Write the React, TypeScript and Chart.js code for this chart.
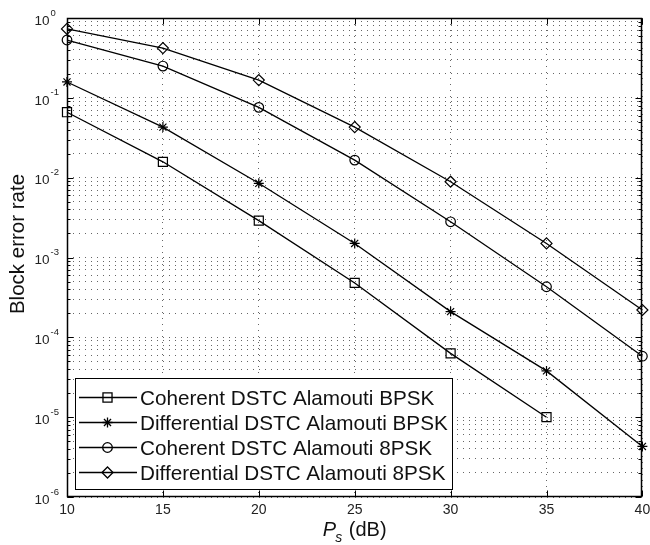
import React, { useEffect, useRef } from 'react';
import { Chart, registerables } from 'chart.js';
import { drawPoint } from 'chart.js/helpers';
Chart.register(...registerables);

// ---- data ----
const psDb = [10, 15, 20, 25, 30, 35, 40];
const coherentBpsk = [0.066, 0.0158, 0.0029, 4.8e-4, 6.3e-5, 1.0e-5];
const differentialBpsk = [0.158, 0.043, 0.0085, 1.5e-3, 2.1e-4, 3.8e-5, 4.3e-6];
const coherent8psk = [0.53, 0.25, 0.076, 0.0166, 0.0028, 4.3e-4, 5.8e-5];
const differential8psk = [0.73, 0.42, 0.167, 0.043, 0.0089, 1.5e-3, 2.2e-4];
const seriesLabels = [
  'Coherent DSTC Alamouti BPSK',
  'Differential DSTC Alamouti BPSK',
  'Coherent DSTC Alamouti 8PSK',
  'Differential DSTC Alamouti 8PSK',
];
const xTickValues = [10, 15, 20, 25, 30, 35, 40];
const yDecadeExponents = [0, -1, -2, -3, -4, -5, -6];
const yAxisTitle = 'Block error rate';
const xTitleMain = 'P';
const xTitleSub = 's';
const xTitleRest = ' (dB)';

const seriesValues = [coherentBpsk, differentialBpsk, coherent8psk, differential8psk];
const markerStyles = ['rect', 'star', 'circle', 'rectRot'];
const markerRadii = [6.4, 5, 4.8, 5.5];

const FONT = '"Liberation Sans", Arial, Helvetica, sans-serif';

function yTickList() {
  const out: number[] = [];
  for (let d = -6; d <= 0; d++) {
    for (let m = 1; m <= 9; m++) {
      if (d === 0 && m > 1) break;
      out.push(m * Math.pow(10, d));
    }
  }
  return out;
}

const decorPlugin = {
  id: 'decor',
  afterDraw(chart: any) {
    const { ctx, chartArea: a, scales } = chart;
    const xs = scales.x;
    const ys = scales.y;
    const L = Math.round(a.left) + 0.5;
    const R = Math.round(a.right) - 0.5;
    const T = Math.round(a.top) + 0.5;
    const B = Math.round(a.bottom) - 0.5;
    ctx.save();
    ctx.setLineDash([]);
    ctx.strokeStyle = '#000';
    ctx.lineWidth = 1.5;
    // box
    ctx.strokeRect(L, T, R - L, B - T);
    ctx.lineWidth = 1;
    // ticks
    ctx.beginPath();
    for (const v of xTickValues) {
      const px = Math.round(xs.getPixelForValue(v)) + 0.5;
      ctx.moveTo(px, B); ctx.lineTo(px, B - 6);
      ctx.moveTo(px, T); ctx.lineTo(px, T + 6);
    }
    for (const v of yTickList()) {
      const py = Math.round(ys.getPixelForValue(v)) + 0.5;
      const major = Math.abs(Math.log10(v) - Math.round(Math.log10(v))) < 1e-9;
      const len = major ? 6 : 3;
      ctx.moveTo(L, py); ctx.lineTo(L + len, py);
      ctx.moveTo(R, py); ctx.lineTo(R - len, py);
    }
    ctx.stroke();

    // x tick labels
    ctx.fillStyle = '#222';
    ctx.font = `14px ${FONT}`;
    ctx.textAlign = 'center';
    ctx.textBaseline = 'middle';
    for (const v of xTickValues) {
      ctx.fillText(String(v), xs.getPixelForValue(v), 510);
    }
    // y tick labels 10^k
    for (const e of yDecadeExponents) {
      const py = ys.getPixelForValue(Math.pow(10, e));
      ctx.textAlign = 'left';
      ctx.font = `13.5px ${FONT}`;
      ctx.fillText('10', 34.5, py + 3);
      const w = ctx.measureText('10').width;
      ctx.font = `9.5px ${FONT}`;
      ctx.fillText(String(e), 34.5 + w + 1, py - 5);
    }
    // y title
    ctx.save();
    ctx.translate(23.5, 244);
    ctx.rotate(-Math.PI / 2);
    ctx.font = `20.5px ${FONT}`;
    ctx.textAlign = 'center';
    ctx.textBaseline = 'alphabetic';
    ctx.fillStyle = '#111';
    ctx.fillText(yAxisTitle, 0, 0);
    ctx.restore();
    // x title
    ctx.fillStyle = '#111';
    ctx.textBaseline = 'alphabetic';
    ctx.textAlign = 'left';
    ctx.font = `italic 20px ${FONT}`;
    const wP = ctx.measureText(xTitleMain).width;
    ctx.font = `italic 14px ${FONT}`;
    const wS = ctx.measureText(xTitleSub).width;
    ctx.font = `20px ${FONT}`;
    const wR = ctx.measureText(xTitleRest).width;
    const total = wP + wS + wR;
    const x0 = (a.left + a.right) / 2 - total / 2;
    ctx.font = `italic 20px ${FONT}`;
    ctx.fillText(xTitleMain, x0, 536);
    ctx.font = `italic 14px ${FONT}`;
    ctx.fillText(xTitleSub, x0 + wP - 1, 542);
    ctx.font = `20px ${FONT}`;
    ctx.fillText(xTitleRest, x0 + wP + wS, 536);

    // legend
    const lx = 75.5, ly = 378.5, lw = 377, lh = 111;
    ctx.fillStyle = '#fff';
    ctx.fillRect(lx, ly, lw, lh);
    ctx.strokeStyle = '#000';
    ctx.lineWidth = 1;
    ctx.strokeRect(lx, ly, lw, lh);
    const rows = [397, 422, 447, 472];
    seriesLabels.forEach((lab, i) => {
      const cy = rows[i] + 0.5;
      ctx.beginPath();
      ctx.moveTo(79, cy); ctx.lineTo(137, cy);
      ctx.strokeStyle = '#000';
      ctx.lineWidth = 1.3;
      ctx.stroke();
      ctx.fillStyle = 'rgba(0,0,0,0)';
      ctx.strokeStyle = '#000';
      drawPoint(ctx, { pointStyle: markerStyles[i], radius: markerRadii[i], rotation: 0, borderWidth: 1.2 } as any, 107.5, cy);
      ctx.fillStyle = '#111';
      ctx.font = `20.7px ${FONT}`;
      ctx.textAlign = 'left';
      ctx.textBaseline = 'alphabetic';
      ctx.fillText(lab, 140, rows[i] + 7.5);
    });
    ctx.restore();
  },
};

export default function App() {
  const ref = useRef<HTMLCanvasElement>(null);
  useEffect(() => {
    const canvas = ref.current!;
    const datasets = seriesValues.map((vals, i) => ({
      label: seriesLabels[i],
      data: vals.map((v, j) => ({ x: psDb[j], y: v })),
      borderColor: '#000',
      borderWidth: 1.3,
      backgroundColor: 'rgba(0,0,0,0)',
      pointStyle: markerStyles[i],
      pointRadius: markerRadii[i],
      pointBorderColor: '#000',
      pointBackgroundColor: 'rgba(0,0,0,0)',
      pointBorderWidth: 1.2,
      tension: 0,
      fill: false,
      clip: false as any,
    }));
    const chart = new Chart(canvas, {
      type: 'line',
      data: { datasets },
      options: {
        animation: false,
        responsive: false,
        maintainAspectRatio: false,
        events: [],
        layout: { padding: { top: 18, right: 7, left: 0, bottom: 0 } },
        plugins: { legend: { display: false }, tooltip: { enabled: false } },
        scales: {
          x: {
            type: 'linear',
            min: 10,
            max: 40,
            afterBuildTicks: (s: any) => { s.ticks = xTickValues.map((v) => ({ value: v })); },
            afterFit: (s: any) => { s.height = 48; s.paddingLeft = 0; s.paddingRight = 0; },
            ticks: { display: false },
            grid: { color: '#666', lineWidth: 1, drawTicks: false },
            border: { display: false, dash: [1, 5] },
          },
          y: {
            type: 'logarithmic',
            min: 1e-6,
            max: 1,
            afterBuildTicks: (s: any) => { s.ticks = yTickList().map((v) => ({ value: v })); },
            afterFit: (s: any) => { s.width = 67; s.paddingTop = 0; s.paddingBottom = 0; },
            ticks: { display: false, autoSkip: false },
            grid: { color: '#666', lineWidth: 1, drawTicks: false },
            border: { display: false, dash: [1, 5] },
          },
        },
      },
      plugins: [decorPlugin],
    });
    return () => chart.destroy();
  }, []);
  return (
    <div style={{ position: 'absolute', left: 0, top: 0, width: 650, height: 545, background: '#fff' }}>
      <canvas ref={ref} width={650} height={545} style={{ width: 650, height: 545, display: 'block' }} />
    </div>
  );
}
